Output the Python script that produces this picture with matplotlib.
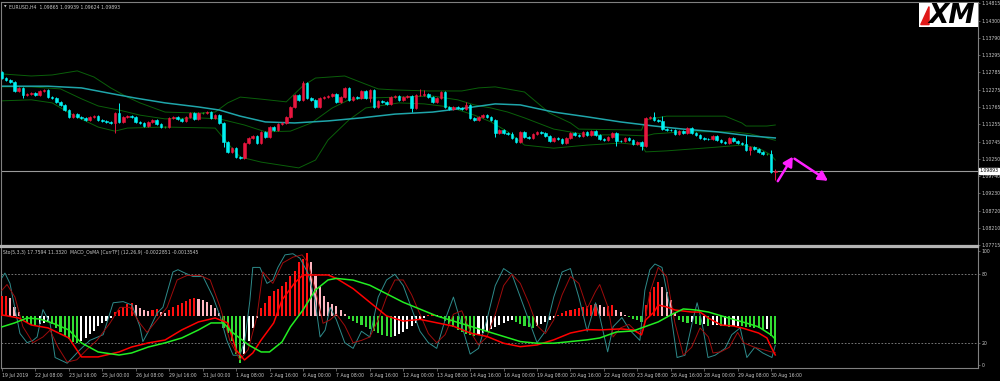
import matplotlib
matplotlib.use("Agg")
import matplotlib.pyplot as plt
import numpy as np

# ---------------- DATA ----------------
first_open = 1.1280
closes = [
    1.1262, 1.1256, 1.1250, 1.1224, 1.1233, 1.1212, 1.1215, 1.1218, 1.1212, 1.1224,
    1.1227, 1.1207, 1.1203, 1.1191, 1.1182, 1.1168, 1.1147, 1.1156, 1.1147, 1.1144,
    1.1138, 1.1147, 1.1150, 1.1138, 1.1136, 1.1134, 1.1130, 1.1159, 1.1133, 1.1147,
    1.1150, 1.1147, 1.1133, 1.1130, 1.1121, 1.1133, 1.1138, 1.1127, 1.1118, 1.1118,
    1.1144, 1.1147, 1.1141, 1.1136, 1.1147, 1.1159, 1.1141, 1.1159, 1.1159, 1.1162,
    1.1144, 1.1153, 1.1130, 1.1074, 1.1044, 1.1056, 1.1030, 1.1027, 1.1071, 1.1086,
    1.1091, 1.1071, 1.1103, 1.1088, 1.1118, 1.1109, 1.1127, 1.1130, 1.1147, 1.1177,
    1.1212, 1.1197, 1.1247, 1.1203, 1.1197, 1.1177, 1.1203, 1.1206, 1.1209, 1.1215,
    1.1191, 1.1206, 1.1233, 1.1197, 1.1206, 1.1203, 1.1224, 1.1203, 1.1227, 1.1177,
    1.1194, 1.1191, 1.1185, 1.1206, 1.1209, 1.1197, 1.1206, 1.1209, 1.1174, 1.1212,
    1.1213, 1.1215, 1.1206, 1.1191, 1.1203, 1.1221, 1.1177, 1.1171, 1.1177, 1.1174,
    1.1172, 1.1182, 1.1144, 1.1138, 1.1147, 1.1153, 1.1147, 1.1138, 1.1100, 1.1109,
    1.1100, 1.1099, 1.1086, 1.1074, 1.1103, 1.1088, 1.1087, 1.1097, 1.1103, 1.1100,
    1.1091, 1.1077, 1.1086, 1.1083, 1.1071, 1.1086, 1.1100, 1.1094, 1.1091, 1.1103,
    1.1094, 1.1106, 1.1094, 1.1083, 1.1081, 1.1088, 1.1100, 1.1077, 1.1076, 1.1086,
    1.1080, 1.1068, 1.1074, 1.1062, 1.1144, 1.1147, 1.1138, 1.1135, 1.1112, 1.1109,
    1.1108, 1.1097, 1.1106, 1.1100, 1.1115, 1.1100, 1.1094, 1.1086, 1.1084, 1.1083,
    1.1091, 1.1080, 1.1074, 1.1072, 1.1086, 1.1077, 1.1071, 1.1068, 1.1050, 1.1059,
    1.1053, 1.1044, 1.1038, 1.1038, 1.09865, 1.09893]
long_highs = {28: 1.1188, 72: 1.1253, 100: 1.1230, 101: 1.1227, 111: 1.1192,
              156: 1.1162, 158: 1.1150, 178: 1.1094, 184: 1.1050, 185: 1.09939}
long_lows = {5: 1.1203, 27: 1.1100, 53: 1.1059, 88: 1.1191, 98: 1.1162,
             118: 1.1088, 147: 1.1062, 153: 1.1050, 179: 1.1036, 185: 1.09624}

ma_x = [0, 11, 19, 28, 32, 39, 47, 52, 57, 63, 70, 78, 86, 94, 103, 111, 118, 124,
        132, 140, 148, 156, 163, 171, 179, 185]
ma_y = [1.1238, 1.1238, 1.1233, 1.1212, 1.1203, 1.1189, 1.1177, 1.1168, 1.1150, 1.1133,
        1.1130, 1.1136, 1.1145, 1.1156, 1.1162, 1.1174, 1.1186, 1.1183, 1.1162, 1.1148,
        1.1133, 1.1121, 1.1112, 1.1104, 1.1092, 1.1086]

bb_up_x = [0, 7, 12, 18, 22, 26, 30, 33, 39, 47, 51, 54, 57, 62, 68, 72, 75, 82, 87, 90,
           94, 102, 110, 114, 118, 125, 131, 136, 138, 153, 154, 159, 173, 177, 178, 183, 185]
bb_up_y = [1.1274, 1.1268, 1.1271, 1.1283, 1.1265, 1.1233, 1.1206, 1.1189, 1.1162, 1.1159,
           1.1162, 1.1189, 1.1206, 1.1200, 1.1192, 1.1239, 1.1262, 1.1268, 1.1244, 1.1230,
           1.1227, 1.1224, 1.1224, 1.1233, 1.1236, 1.1221, 1.1159, 1.1130, 1.1112, 1.1109,
           1.1139, 1.1150, 1.1150, 1.1130, 1.1121, 1.1121, 1.1124]
bb_mid_x = [0, 7, 14, 19, 23, 28, 33, 39, 47, 52, 58, 63, 69, 74, 79, 83, 87, 95, 103,
            109, 113, 117, 121, 125, 132, 140, 148, 154, 156, 163, 175, 179, 185]
bb_mid_y = [1.1236, 1.1236, 1.1230, 1.1201, 1.1180, 1.1168, 1.1153, 1.1142, 1.1145, 1.1142,
            1.1124, 1.1104, 1.1106, 1.1130, 1.1174, 1.1198, 1.1203, 1.1206, 1.1209, 1.1198,
            1.1183, 1.1174, 1.1162, 1.1145, 1.1112, 1.1095, 1.1095, 1.1092, 1.1098, 1.1104,
            1.1104, 1.1098, 1.1079]
bb_lo_x = [0, 7, 12, 17, 23, 27, 30, 39, 51, 55, 57, 62, 71, 75, 78, 83, 87, 95, 101,
           107, 113, 117, 121, 125, 132, 140, 148, 153, 154, 159, 171, 177, 181, 184, 185]
bb_lo_y = [1.1195, 1.1198, 1.1189, 1.1153, 1.1118, 1.1106, 1.1115, 1.1118, 1.1115, 1.1056,
           1.1030, 1.1015, 1.0998, 1.1021, 1.1080, 1.1139, 1.1174, 1.1189, 1.1186, 1.1177,
           1.1153, 1.1133, 1.1104, 1.1065, 1.1056, 1.1065, 1.1071, 1.1065, 1.1045, 1.1048,
           1.1059, 1.1065, 1.1056, 1.1036, 1.1021]

price_ticks = [1.14815, 1.14300, 1.13790, 1.13295, 1.12785, 1.12275, 1.11765, 1.11255,
               1.10745, 1.10250, 1.09740, 1.09230, 1.08720, 1.08210, 1.07715]
last_price = 1.09893

date_labels = ["19 Jul 2019", "22 Jul 08:00", "23 Jul 16:00", "25 Jul 00:00", "26 Jul 08:00",
               "29 Jul 16:00", "31 Jul 00:00", "1 Aug 08:00", "2 Aug 16:00", "6 Aug 00:00",
               "7 Aug 08:00", "8 Aug 16:00", "12 Aug 00:00", "13 Aug 08:00", "14 Aug 16:00",
               "16 Aug 00:00", "19 Aug 08:00", "20 Aug 16:00", "22 Aug 00:00", "23 Aug 08:00",
               "26 Aug 16:00", "28 Aug 00:00", "29 Aug 08:00", "30 Aug 16:00"]
label_every = 8

sto_main_x = [0, 0.7, 1.9, 4.3, 6, 7.4, 8.4, 9.8, 11.5, 12.7, 15.6, 18.7, 21, 24.2, 26.6, 29,
              31.1, 33, 33.7, 34.9, 37.1, 38.5, 39.5, 40.9, 42.1, 43.8, 45.7, 48.1, 50.5, 52.2,
              53.8, 55.3, 56.9, 58.1, 59.3, 60, 61.7, 63.4, 64.8, 66, 67.7, 69.6, 71.3, 73.2,
              74.9, 76.1, 77.3, 78.5,
              80, 82, 84, 86, 88, 90, 92, 94, 96, 98, 100, 102, 104, 106, 108, 110, 112, 114,
              116, 118, 120, 122, 124, 126, 128, 130, 132, 134, 136, 138, 140, 142,
              143, 144.9, 146.2, 148.3, 150.2, 152.6, 153.8, 155, 156.2, 157.9, 159.8, 161.5,
              163.4, 165.1, 166.3, 167.5, 168.9, 170.6, 173, 174.6, 176.6, 178.2, 180.1, 182,
              184.2, 185]
sto_main_y = [77, 81, 72, 28, 20, 22, 25, 49, 37, 7, 2, 14, 22, 27, 55, 56,
              53, 34, 21, 29, 46, 51, 64, 82, 84, 81, 78, 78, 60, 43,
              22, 9, 9, 22, 57, 86, 86, 72, 75, 86, 97, 98, 94, 81,
              57, 25, 31, 51,
              40, 20, 15, 30, 25, 60, 75, 80, 70, 50, 30, 20, 15, 40, 60, 35, 10, 15,
              40, 70, 85, 80, 60, 40, 20, 30, 60, 82, 85, 60, 30, 55,
              43, 12, 34, 42, 31, 22, 66, 84, 89, 86, 51, 7,
              9, 37, 55, 37, 7, 9, 15, 27, 33, 7, 16, 11,
              7, 17.76]
sto_sig_x = [0, 1.2, 3.1, 5, 7.4, 9.8, 11.5, 13.4, 15.6, 17.9, 20.3, 22.7, 25.8, 28.2, 30.6,
             33, 34.7, 37.1, 39.5, 41.9, 44.3, 47.4, 49.8, 52.2, 54.5, 56.9, 58.9, 61, 62.4,
             64.8, 67.2, 69.6, 71.8, 73.2, 75.4, 76.8, 78.5,
             80, 82, 84, 86, 88, 90, 92, 94, 96, 98, 100, 102, 104, 106, 108, 110, 112, 114,
             116, 118, 120, 122, 124, 126, 128, 130, 132, 134, 136, 138, 140, 142,
             143, 145, 146.2, 148, 150, 152, 153.4, 155, 157, 159, 161, 163, 165, 167, 169,
             170.1, 172, 174, 176, 177.4, 180, 182, 184, 185]
sto_sig_y = [66, 71, 60, 34, 20, 25, 31, 16, 3, 5, 14, 22, 37, 51, 51,
             37, 29, 40, 51, 75, 79, 79, 75, 51, 22, 5, 14, 43, 82,
             72, 90, 95, 97, 90, 60, 37, 40,
             45, 35, 20, 22, 25, 40, 60, 75, 75, 62, 45, 28, 20, 27, 45, 48, 30, 18,
             25, 45, 70, 80, 72, 55, 35, 28, 40, 62, 78, 72, 50, 65,
             71, 51, 25, 33, 36, 29, 31, 64, 86, 78, 37, 9, 16, 33, 25,
             11, 12, 16, 29, 20, 16, 14, 12, 11.33]

macd_x = [0, 4, 7, 11, 16, 19, 23, 28, 31, 35, 39, 43, 47, 51, 54, 56, 58, 60, 62, 65, 67,
          70, 72, 75, 78,
          80, 84, 88, 92, 96, 100, 104, 108, 112, 116, 120, 124, 128, 132, 136, 140,
          143, 148, 151, 153, 154, 156, 157, 159, 161, 165, 167, 169, 172, 175, 177, 181,
          183, 184, 185]
macd_y = [0.00006, -0.00012, -0.00053, -0.00070, -0.00129, -0.00240, -0.00240, -0.00211,
          -0.00182, -0.00158, -0.00141, -0.00082, -0.00035, -0.00012, -0.00041, -0.00199,
          -0.00258, -0.00217, -0.00141, -0.00041, 0.00094, 0.00193, 0.00240, 0.00240, 0.00240,
          0.0022, 0.0016, 0.0008, 0.0, -0.0003, -0.0002, -0.0004, -0.0006, -0.0010, -0.0012,
          -0.0016, -0.0018, -0.0017, -0.0014, -0.0010, -0.0008,
          -0.00082, -0.00076, -0.00082, -0.00111, -0.00023, 0.00023, 0.00064, 0.00053,
          0.00035, 0.00023, 0.00023, -0.00012, -0.00053, -0.00059, -0.00070, -0.00100,
          -0.00129, -0.00182, -0.0022851]
sig_x = [0, 3, 6, 9, 12, 16, 19, 23, 28, 31, 35, 39, 43, 47, 50, 53, 55, 59, 62, 64, 67,
         69, 72, 75, 78,
         80, 84, 88, 92, 96, 100, 104, 108, 112, 116, 120, 124, 128, 132, 136, 140,
         143, 147, 151, 153, 157, 160, 163, 166, 169, 173, 178, 181, 184, 185]
sig_y = [-0.00064, -0.00041, -0.00012, -0.00018, -0.00041, -0.00082, -0.00158, -0.00211,
         -0.00229, -0.00217, -0.00182, -0.00158, -0.00129, -0.00082, -0.00041, -0.00041,
         -0.00094, -0.00170, -0.00211, -0.00211, -0.00152, -0.00064, 0.00035, 0.00152, 0.00211,
         0.0022, 0.0021, 0.0018, 0.0013, 0.0008, 0.0004, 0.0, -0.0003, -0.0006, -0.0009,
         -0.0012, -0.0015, -0.0016, -0.0016, -0.0015, -0.0014,
         -0.00129, -0.00094, -0.00088, -0.00070, -0.00035, 0.00006, 0.00041, 0.00035,
         0.00023, -0.00006, -0.00041, -0.00064, -0.00111, -0.0013545]

osma = [
    0.00114, 0.00114, 0.00108, 0.00054, 0.00024, -0.00012, -0.00042, -0.00054, -0.00060, -0.00048,
    -0.00042, -0.00036, -0.00048, -0.00072, -0.00096, -0.00120, -0.00138, -0.00150, -0.00156, -0.00144,
    -0.00132, -0.00108, -0.00090, -0.00060, -0.00042, -0.00030, -0.00012, 0.00024, 0.00036, 0.00054,
    0.00072, 0.00078, 0.00066, 0.00048, 0.00036, 0.00030, 0.00036, 0.00042, 0.00024, 0.00018,
    0.00036, 0.00054, 0.00066, 0.00078, 0.00090, 0.00102, 0.00108, 0.00102, 0.00096, 0.00084,
    0.00066, 0.00048, 0.00018, -0.00072, -0.00102, -0.00144, -0.00222, -0.00276, -0.00222, -0.00144,
    -0.00072, -0.00012, 0.00048, 0.00078, 0.00114, 0.00144, 0.00156, 0.00174, 0.00198, 0.00234,
    0.00264, 0.00318, 0.00336, 0.00366, 0.00318, 0.00234, 0.00174, 0.00114, 0.00084, 0.00072,
    0.00060, 0.00036, 0.00012, -0.00018, -0.00030, -0.00042, -0.00054, -0.00066, -0.00078, -0.00090,
    -0.00102, -0.00114, -0.00120, -0.00126, -0.00120, -0.00108, -0.00096, -0.00078, -0.00060, -0.00042,
    -0.00024, -0.00012, 0.00006, 0.00012, 0.00006, -0.00012, -0.00030, -0.00048, -0.00066, -0.00084,
    -0.00096, -0.00108, -0.00114, -0.00120, -0.00114, -0.00102, -0.00090, -0.00078, -0.00066, -0.00054,
    -0.00042, -0.00030, -0.00024, -0.00036, -0.00048, -0.00060, -0.00066, -0.00072, -0.00060, -0.00048,
    -0.00036, -0.00024, -0.00012, 0.00006, 0.00018, 0.00030, 0.00036, 0.00042, 0.00048, 0.00054,
    0.00060, 0.00066, 0.00072, 0.00066, 0.00054, 0.00060, 0.00066, 0.00036, 0.00024, 0.00003,
    -0.00006, -0.00018, -0.00024, -0.00033, 0.00066, 0.00138, 0.00168, 0.00198, 0.00168, 0.00138,
    0.00096, 0.00018, -0.00024, -0.00036, -0.00039, -0.00036, -0.00045, -0.00054, -0.00048, -0.00057,
    -0.00054, -0.00051, -0.00060, -0.00057, -0.00063, -0.00060, -0.00057, -0.00060, -0.00063, -0.00066,
    -0.00069, -0.00072, -0.00081, -0.00078, -0.00120, -0.00162]

arrow_up = ((185.6, 1.0959), (189.2, 1.1031))
arrow_down = ((189.6, 1.1025), (197.6, 1.0960))

header_top = "EURUSD,H4  1.09865 1.09939 1.09624 1.09893"
header_low = "Sto(5,3,3) 17.7594 11.3320  MACD_OsMA [CurrTF] (12,26,9) -0.0022851 -0.0013545"

# ---------------- FIGURE ----------------
W, H = 1000, 381
fig = plt.figure(figsize=(W / 100, H / 100), dpi=100, facecolor="black")


def rect(x0, y0, x1, y1):
    return [x0 / W, 1 - y1 / H, (x1 - x0) / W, (y1 - y0) / H]


GRID = "#808080"
TXT = "#c8c8c8"
FS = 3.3
x_left, x_right = -0.24, 233.5

# ---- price panel ----
ax = fig.add_axes(rect(1, 2, 978, 246))
ax.set_facecolor("black")
ax.set_xlim(x_left, x_right)
ax.set_ylim(1.076857, 1.148533)

n = len(closes)
idx = np.arange(n)
c = np.array(closes)
o = np.concatenate([[first_open], c[:-1]])
hi = np.maximum(o, c) + 0.0003
lo = np.minimum(o, c) - 0.0003
for k, v in long_highs.items():
    hi[k] = v
for k, v in long_lows.items():
    lo[k] = v

BULL, BEAR, DOJI = "#e8163f", "#00f0f0", "#1fa01f"
cols = np.where(c > o, BULL, np.where(c < o, BEAR, DOJI))

ax.plot(bb_up_x, bb_up_y, color="#0a5f0a", lw=0.7, zorder=2)
ax.plot(bb_mid_x, bb_mid_y, color="#0a5f0a", lw=0.7, zorder=2)
ax.plot(bb_lo_x, bb_lo_y, color="#0a5f0a", lw=0.7, zorder=2)
ax.plot(ma_x, ma_y, color="#1fa5aa", lw=1.1, zorder=2)

ax.vlines(idx, lo, hi, colors=cols, lw=0.7, zorder=3)
body_h = np.abs(c - o)
ax.bar(idx, body_h, bottom=np.minimum(o, c), width=0.62, color=cols,
       edgecolor=cols, linewidth=0.4, zorder=4)

ax.axhline(last_price, color="#9a9a9a", lw=0.8, zorder=1)

for (p0, p1) in (arrow_up, arrow_down):
    ax.annotate("", xy=p1, xytext=p0,
                arrowprops=dict(arrowstyle="-|>,head_length=0.55,head_width=0.3",
                                color="#ff20ff", lw=1.8, shrinkA=0, shrinkB=0),
                zorder=6)

ax.yaxis.tick_right()
ax.set_yticks(price_ticks)
ax.set_yticklabels([f"{t:.5f}" for t in price_ticks])
ax.tick_params(axis="y", colors=GRID, labelcolor=TXT, labelsize=FS, length=1.5,
               width=0.5, pad=1)
ax.set_xticks([])
for s in ax.spines.values():
    s.set_color(GRID)
    s.set_linewidth(0.8)
ax.spines["bottom"].set_color("#b4b4b4")
ax.spines["bottom"].set_linewidth(1.6)

ax.text(1.0015, last_price, f"{last_price:.5f}", transform=ax.get_yaxis_transform(),
        fontsize=FS, color="black", va="center", ha="left",
        bbox=dict(boxstyle="square,pad=0.12", fc="white", ec="white"), zorder=10,
        clip_on=False)

fig.text(4 / W, 1 - 7 / H, "\u25bc", fontsize=2.4, color=TXT, va="center")
fig.text(9 / W, 1 - 7 / H, header_top, fontsize=FS, color=TXT, va="center")

# XM logo
lax = fig.add_axes(rect(919, 3, 978, 27))
lax.set_xlim(0, 1)
lax.set_ylim(0, 1)
lax.set_facecolor("white")
lax.set_xticks([])
lax.set_yticks([])
for s in lax.spines.values():
    s.set_visible(False)
lax.fill([0.03, 0.17, 0.17], [0.1, 0.85, 0.1], color="#e01818", zorder=1)
lax.text(0.56, 0.47, "XM", fontsize=19, fontweight="heavy", style="italic",
         color="black", ha="center", va="center", zorder=2)

# ---- oscillator panel ----
ax2 = fig.add_axes(rect(1, 247, 978, 368))
ax2.set_facecolor("black")
ax2.set_xlim(x_left, x_right)
ax2.set_ylim(-2.2, 103.9)
for lvl in (80, 20):
    ax2.axhline(lvl, color="#8a8a8a", lw=0.6, ls=(0, (2, 2)), zorder=0)

ax3 = fig.add_axes(rect(1, 247, 978, 368), sharex=ax2)
ax3.patch.set_visible(False)
ax3.set_ylim(-0.00305, 0.00404)
ax3.axis("off")
osm = np.array(osma)
prev = np.concatenate([[osm[0]], osm[:-1]])
hcols = np.where(osm >= 0, np.where(osm >= prev, "#ff1010", "#ffb6c1"),
                 np.where(osm <= prev, "#33dd33", "#ffffff"))
ax3.bar(np.arange(len(osm)), osm, width=0.5, color=hcols, linewidth=0)

ax4 = fig.add_axes(rect(1, 247, 978, 368), sharex=ax2)
ax4.patch.set_visible(False)
ax4.set_ylim(-2.2, 103.9)
ax4.axis("off")
ax4.plot(sto_main_x, sto_main_y, color="#2e8b8b", lw=0.7)
ax4.plot(sto_sig_x, sto_sig_y, color="#9e0c0c", lw=0.7)

ax5 = fig.add_axes(rect(1, 247, 978, 368), sharex=ax2)
ax5.patch.set_visible(False)
ax5.set_ylim(-0.00305, 0.00404)
ax5.axis("off")
ax5.plot(macd_x, macd_y, color="#ff0000", lw=1.1)
ax5.plot(sig_x, sig_y, color="#22ee22", lw=1.1)

ax2.yaxis.tick_right()
ax2.set_yticks([0, 20, 80, 100])
ax2.set_yticklabels(["0", "20", "80", "100"])
ax2.tick_params(axis="y", colors=GRID, labelcolor=TXT, labelsize=FS, length=1.5,
                width=0.5, pad=1)
tick_pos = np.arange(len(date_labels)) * label_every
ax2.set_xticks(tick_pos)
ax2.set_xticklabels(date_labels, ha="left")
ax2.tick_params(axis="x", colors=GRID, labelcolor=TXT, labelsize=FS, length=2,
                width=0.5, pad=1.5)
for s in ax2.spines.values():
    s.set_color(GRID)
    s.set_linewidth(0.8)
ax2.spines["top"].set_color("#b4b4b4")
ax2.spines["top"].set_linewidth(1.6)

fig.text(3 / W, 1 - 252 / H, header_low, fontsize=FS, color=TXT, va="center")

fig.savefig("out.png", dpi=100, facecolor="black")
